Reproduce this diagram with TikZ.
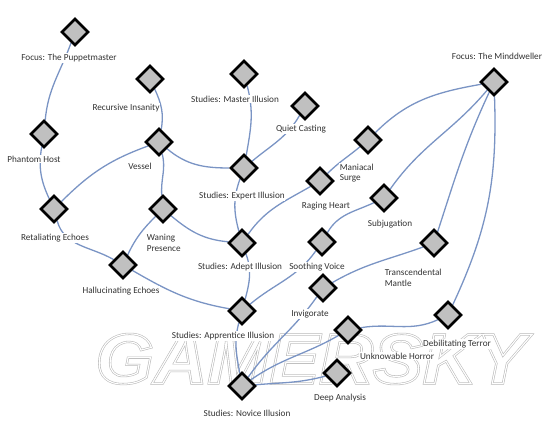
\documentclass[tikz,border=0pt]{standalone}
\usepackage{fontspec}
\setmainfont{Carlito}
\newfontfamily\wmfont{Liberation Sans}
\usetikzlibrary{shapes.geometric}
\pgfdeclarelayer{wm}
\pgfdeclarelayer{bg}
\pgfsetlayers{wm,bg,main}
\definecolor{edgeblue}{HTML}{7A94C4}
\definecolor{dfill}{HTML}{C0C0C0}
\definecolor{lbltext}{HTML}{333333}
\tikzset{
  sk/.style={shape=diamond, draw=black, line width=2.6pt, fill=dfill, minimum size=27pt, inner sep=0pt},
  lbl/.style={font=\fontsize{9.2}{10.5}\selectfont, text=lbltext, inner sep=0.6pt, fill=white},
  lbltwo/.style={lbl, align=left, anchor=west},
  link/.style={draw=edgeblue, line width=1.3pt},
  wmark/.style={font=\wmfont\bfseries\itshape\fontsize{71}{71}\selectfont, inner sep=0pt, xscale=1.05, transform shape},
}
\begin{document}
\begin{tikzpicture}[x=1pt,y=1pt]
\useasboundingbox (0,0) rectangle (550,426);
% diamonds
\node[sk] (pm) at (75,394) {};
\node[sk] (ri) at (150,347) {};
\node[sk] (ph) at (44,292) {};
\node[sk] (ve) at (159,284) {};
\node[sk] (re) at (54,217) {};
\node[sk] (wp) at (163,217) {};
\node[sk] (he) at (123,161) {};
\node[sk] (mi) at (244,352) {};
\node[sk] (qc) at (305,320) {};
\node[sk] (ex) at (244,258) {};
\node[sk] (ms) at (368,286) {};
\node[sk] (rh) at (320,245) {};
\node[sk] (md) at (494,344) {};
\node[sk] (su) at (384,228) {};
\node[sk] (ad) at (242,183) {};
\node[sk] (sv) at (322,184) {};
\node[sk] (tm) at (434,183) {};
\node[sk] (iv) at (323,138) {};
\node[sk] (ap) at (242,115) {};
\node[sk] (uh) at (348,96) {};
\node[sk] (dt) at (448,111) {};
\node[sk] (da) at (337,53) {};
\node[sk] (nv) at (242,40) {};
% labels
\node[lbl] (pm-l) at (69,368) {Focus: The Puppetmaster};
\node[lbl] (ri-l) at (126,318) {Recursive Insanity};
\node[lbl] (ph-l) at (34,267) {Phantom Host};
\node[lbl] (ve-l) at (140,260) {Vessel};
\node[lbl] (re-l) at (55,188) {Retaliating Echoes};
\node[lbltwo] (wp-l) at (146,183) {Waning\\Presence};
\node[lbl] (he-l) at (121,135) {Hallucinating Echoes};
\node[lbl] (mi-l) at (235,327) {Studies: Master Illusion};
\node[lbl] (qc-l) at (301,297) {Quiet Casting};
\node[lbl] (ex-l) at (242,230) {Studies: Expert Illusion};
\node[lbltwo] (ms-l) at (339,253) {Maniacal\\Surge};
\node[lbl] (rh-l) at (326,220) {Raging Heart};
\node[lbl] (md-l) at (497,370) {Focus: The Minddweller};
\node[lbl] (su-l) at (390,202) {Subjugation};
\node[lbl] (ad-l) at (240,159) {Studies: Adept Illusion};
\node[lbl] (sv-l) at (317,159) {Soothing Voice};
\node[lbltwo] (tm-l) at (384,148) {Transcendental\\Mantle};
\node[lbl] (iv-l) at (310,112) {Invigorate};
\node[lbl] (ap-l) at (223,90) {Studies: Apprentice Illusion};
\node[lbl] (uh-l) at (397,70) {Unknowable Horror};
\node[lbl] (dt-l) at (457,82) {Debilitating Terror};
\node[lbl] (da-l) at (340,28) {Deep Analysis};
\node[lbl] (nv-l) at (247,13) {Studies: Novice Illusion};
% watermark
\begin{pgfonlayer}{wm}
\node[wmark, text=black!28] (wm1) at (311,67) {\special{pdf:literal direct 1 Tr 2.2 w}GAMERSKY\special{pdf:literal direct 0 Tr 1 w}};
\node[wmark, text=white] (wm2) at (311,67) {\special{pdf:literal direct 1 Tr 1.1 w}GAMERSKY\special{pdf:literal direct 0 Tr 1 w}};
\end{pgfonlayer}
% connectors
\begin{pgfonlayer}{bg}
\path[link] (pm) to[out=-110,in=85] (ph);
\path[link] (ph) to[out=-100,in=115] (re);
\path[link] (re) to[out=45,in=-160] (ve);
\path[link] (re) to[out=-75,in=150] (he);
\path[link] (he) to[out=65,in=-135] (wp);
\path[link] (he) to[out=-30,in=170] (ap);
\path[link] (ri) to[out=-65,in=80] (ve);
\path[link] (ve) to[out=-75,in=95] (wp);
\path[link] (ve) to[out=-40,in=180] (ex);
\path[link] (wp) to[out=-40,in=175] (ad);
\path[link] (mi) to[out=-75,in=80] (ex);
\path[link] (qc) to[out=-120,in=40] (ex);
\path[link] (ex) to[out=-110,in=105] (ad);
\path[link] (ad) to[out=55,in=-150] (rh);
\path[link] (rh) to[out=45,in=-140] (ms);
\path[link] (ms) to[out=45,in=190] (md);
\path[link] (su) to[out=55,in=-130] (md);
\path[link] (su) to[out=-155,in=60] (sv);
\path[link] (sv) to[out=-125,in=40] (ap);
\path[link] (ad) to[out=-70,in=75] (ap);
\path[link] (iv) to[out=30,in=-160] (tm);
\path[link] (tm) to[out=72,in=-115] (md);
\path[link] (dt) to[out=65,in=-88] (md);
\path[link] (dt) to[out=-155,in=10] (uh);
\path[link] (ap) to[out=-105,in=100] (nv);
\path[link] (nv) to[out=55,in=-125] (iv);
\path[link] (nv) to[out=35,in=-150] (uh);
\path[link] (nv) to[out=5,in=-165] (da);
\end{pgfonlayer}
\end{tikzpicture}
\end{document}
